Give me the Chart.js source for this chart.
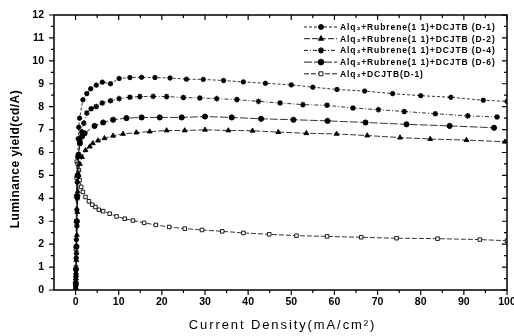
<!DOCTYPE html>
<html>
<head>
<meta charset="utf-8">
<script src="https://cdn.jsdelivr.net/npm/chart.js@4"></script>
<style>
  body { margin: 0; background: #fff; }
  #wrap { width: 514px; height: 336px; }
</style>
</head>
<body>
<div id="wrap"><canvas id="lumChart" width="514" height="336"></canvas></div>
<script>
// tick labels
const xTicks = [0, 10, 20, 30, 40, 50, 60, 70, 80, 90, 100];
const yTicks = [0, 1, 2, 3, 4, 5, 6, 7, 8, 9, 10, 11, 12];

const xTitle = 'Current Density(mA/cm\u00b2)';
const yTitle = 'Luminance yield(cd/A)';

const labels = [
  'Alq\u2083+Rubrene(1 1)+DCJTB (D-1)',
  'Alq\u2083+Rubrene(1 1)+DCJTB (D-2)',
  'Alq\u2083+Rubrene(1 1)+DCJTB (D-4)',
  'Alq\u2083+Rubrene(1 1)+DCJTB (D-6)',
  'Alq\u2083+DCJTB(D-1)'
];

// D-1 (circles, top curve)
const d1X = [0.05, 0.1, 0.15, 0.2, 0.3, 0.4, 0.5, 0.6, 0.75, 0.93, 1.7, 2.6, 3.5, 4.8, 6.2, 8.1, 10.1, 12.6, 15.3, 18.4, 21.9, 25.7, 29.6, 34.3, 38.9, 44, 50, 55, 60.6, 67, 73.5, 80, 87, 94.5, 100];
const d1Y = [0.2, 0.7, 1.4, 2.2, 3.5, 4.7, 5.8, 6.6, 7.1, 7.5, 8.3, 8.57, 8.78, 8.94, 9.07, 9.0, 9.23, 9.27, 9.28, 9.27, 9.25, 9.2, 9.19, 9.14, 9.08, 9.02, 8.95, 8.85, 8.75, 8.68, 8.57, 8.48, 8.41, 8.28, 8.23];

// D-2 (triangles)
const d2X = [0.05, 0.1, 0.2, 0.3, 0.4, 0.5, 0.7, 1.0, 1.5, 2.3, 3.3, 4.0, 5.2, 6.7, 8.7, 11, 14.1, 17.2, 21.1, 25.3, 30, 35.4, 41, 47, 53.5, 60.5, 67.6, 75.2, 82.2, 90.6, 99.5];
const d2Y = [0.1, 0.5, 1.3, 2.4, 3.4, 4.3, 5.0, 5.5, 5.8, 6.1, 6.26, 6.4, 6.52, 6.62, 6.73, 6.81, 6.87, 6.91, 6.96, 6.96, 6.99, 6.96, 6.95, 6.89, 6.84, 6.81, 6.74, 6.65, 6.59, 6.54, 6.47];

// D-4 (stars)
const d4X = [0.05, 0.1, 0.2, 0.3, 0.4, 0.5, 0.7, 1.0, 1.4, 1.9, 2.6, 3.6, 4.8, 6.2, 8.1, 10.1, 12.6, 14.9, 18, 21.1, 25, 28.8, 32.7, 37.4, 42.4, 47.4, 52.7, 58.3, 64.3, 70.2, 76.2, 83.4, 90.9, 97.7];
const d4Y = [0.2, 0.6, 1.6, 2.8, 4.0, 5.0, 5.9, 6.5, 6.9, 7.28, 7.72, 7.91, 8.01, 8.16, 8.26, 8.35, 8.41, 8.44, 8.45, 8.44, 8.4, 8.38, 8.35, 8.31, 8.23, 8.16, 8.09, 8.06, 7.94, 7.87, 7.79, 7.69, 7.6, 7.55];

// D-6 (large dots)
const d6X = [0.05, 0.1, 0.2, 0.3, 0.4, 0.5, 0.7, 1.0, 1.5, 2.1, 4.4, 6.4, 8.7, 11.8, 15.3, 19.5, 24.6, 30, 36.2, 43, 50.5, 58.4, 67.2, 76.7, 86.7, 97];
const d6Y = [0.3, 0.9, 1.9, 3.0, 4.1, 5.0, 5.9, 6.4, 6.7, 6.84, 7.16, 7.31, 7.43, 7.5, 7.53, 7.53, 7.53, 7.57, 7.53, 7.47, 7.43, 7.38, 7.31, 7.23, 7.16, 7.08];

// Alq3+DCJTB (open squares)
const dcX = [0.02, 0.05, 0.08, 0.1, 0.15, 0.2, 0.25, 0.3, 0.5, 0.77, 0.93, 1.3, 1.7, 2.3, 3.1, 3.9, 4.6, 5.4, 6.4, 7.9, 9.5, 11.4, 13.3, 15.9, 18.6, 21.7, 25.3, 29.3, 34, 38.9, 44.9, 51.2, 58.3, 66.2, 74.4, 83.9, 93.7, 100];
const dcY = [0.1, 0.5, 1.0, 1.8, 3.0, 4.1, 4.9, 5.6, 5.5, 5.23, 4.79, 4.5, 4.28, 4.06, 3.87, 3.72, 3.62, 3.5, 3.44, 3.33, 3.21, 3.11, 3.03, 2.93, 2.84, 2.75, 2.68, 2.62, 2.56, 2.49, 2.43, 2.37, 2.34, 2.3, 2.26, 2.24, 2.2, 2.15];

function pts(xs, ys) {
  return xs.map((x, i) => ({ x: x, y: ys[i] }));
}

const styles = [
  { pointStyle: 'circle', radius: 2.2, dash: [3, 2], fill: '#000' },
  { pointStyle: 'triangle', radius: 2.8, dash: [6, 2], fill: '#000' },
  { pointStyle: 'star', radius: 2.8, dash: [4, 2, 1, 2], fill: '#000' },
  { pointStyle: 'circle', radius: 2.6, dash: [8, 2], fill: '#000' },
  { pointStyle: 'rect', radius: 2.5, dash: [5, 2], fill: '#fff' }
];
const series = [pts(d1X, d1Y), pts(d2X, d2Y), pts(d4X, d4Y), pts(d6X, d6Y), pts(dcX, dcY)];

const datasets = series.map((data, i) => ({
  label: labels[i],
  data: data,
  borderColor: '#000',
  borderWidth: 0.8,
  borderDash: styles[i].dash,
  pointStyle: styles[i].pointStyle,
  pointRadius: styles[i].radius,
  pointBackgroundColor: styles[i].fill,
  pointBorderColor: '#000',
  pointBorderWidth: styles[i].pointStyle === 'star' ? 1.4 : 0.9,
  showLine: true,
  tension: 0
}));

// frame, minor ticks, mirrored ticks on top and right, axis titles
const framePlugin = {
  id: 'frame',
  afterDraw(chart) {
    const ctx = chart.ctx;
    const a = chart.chartArea;
    const xs = chart.scales.x, ys = chart.scales.y;
    ctx.save();
    ctx.strokeStyle = '#000';
    ctx.lineWidth = 1.5;
    ctx.strokeRect(a.left, a.top, a.right - a.left, a.bottom - a.top);
    ctx.lineWidth = 1.2;
    ctx.beginPath();
    for (let v = 0; v <= 100; v += 5) {
      const px = xs.getPixelForValue(v);
      const len = v % 10 === 0 ? 5 : 3;
      ctx.moveTo(px, a.bottom); ctx.lineTo(px, a.bottom + len);
      ctx.moveTo(px, a.top); ctx.lineTo(px, a.top + len);
    }
    for (let v = 0; v <= 12; v += 0.5) {
      const py = ys.getPixelForValue(v);
      const len = v % 1 === 0 ? 5 : 3;
      ctx.moveTo(a.left, py); ctx.lineTo(a.left - len, py);
      ctx.moveTo(a.right, py); ctx.lineTo(a.right - len, py);
    }
    ctx.stroke();

    ctx.fillStyle = '#000';
    ctx.textAlign = 'center';
    ctx.textBaseline = 'middle';
    ctx.font = '13px "Liberation Sans", Arial, sans-serif';
    ctx.letterSpacing = '1.9px';
    ctx.fillText(xTitle, (a.left + a.right) / 2 + 2, 325);

    ctx.translate(16, 159);
    ctx.rotate(-Math.PI / 2);
    ctx.font = 'bold 12px "Liberation Sans", Arial, sans-serif';
    ctx.letterSpacing = '0.5px';
    ctx.fillText(yTitle, 0, 0);
    ctx.restore();
  }
};

// legend drawn inside the plot, top right
const legendPlugin = {
  id: 'insideLegend',
  afterDatasetsDraw(chart) {
    const ctx = chart.ctx;
    ctx.save();
    chart.data.datasets.forEach((ds, i) => {
      const y = 27 + i * 11.7;
      ctx.strokeStyle = '#000';
      ctx.lineWidth = 0.9;
      ctx.setLineDash(ds.borderDash);
      ctx.beginPath();
      ctx.moveTo(304, y); ctx.lineTo(337, y);
      ctx.stroke();
      ctx.setLineDash([]);
      ctx.fillStyle = ds.pointBackgroundColor;
      ctx.lineWidth = ds.pointBorderWidth;
      Chart.helpers.drawPoint(ctx, {
        pointStyle: ds.pointStyle, radius: ds.pointRadius + 0.3, rotation: 0, borderWidth: ds.pointBorderWidth
      }, 321, y);
      ctx.fillStyle = '#000';
      ctx.font = 'bold 8.5px "Liberation Sans", Arial, sans-serif';
      ctx.letterSpacing = '0.9px';
      ctx.textBaseline = 'middle';
      ctx.fillText(ds.label, 340, y + 0.5);
    });
    ctx.restore();
  }
};

const ctx = document.getElementById('lumChart').getContext('2d');
const lumChart = new Chart(ctx, {
  type: 'scatter',
  data: { datasets: datasets },
  options: {
    responsive: false,
    animation: false,
    layout: { padding: { top: 15, right: 7, left: 0, bottom: 0 } },
    plugins: {
      legend: { display: false },
      tooltip: { enabled: false }
    },
    scales: {
      x: {
        type: 'linear',
        min: -5,
        max: 100,
        afterBuildTicks(scale) { scale.ticks = xTicks.map(v => ({ value: v })); },
        afterFit(scale) { scale.height = 46; },
        grid: { display: false },
        border: { display: false },
        ticks: {
          color: '#000',
          padding: -2,
          maxRotation: 0,
          font: { family: '"Liberation Sans", Arial, sans-serif', size: 10.5, weight: 'bold' }
        }
      },
      y: {
        min: 0,
        max: 12,
        afterBuildTicks(scale) { scale.ticks = yTicks.map(v => ({ value: v })); },
        afterFit(scale) { scale.width = 54; },
        grid: { display: false },
        border: { display: false },
        ticks: {
          color: '#000',
          padding: 2,
          font: { family: '"Liberation Sans", Arial, sans-serif', size: 10.5, weight: 'bold' }
        }
      }
    }
  },
  plugins: [framePlugin, legendPlugin]
});
</script>
</body>
</html>
